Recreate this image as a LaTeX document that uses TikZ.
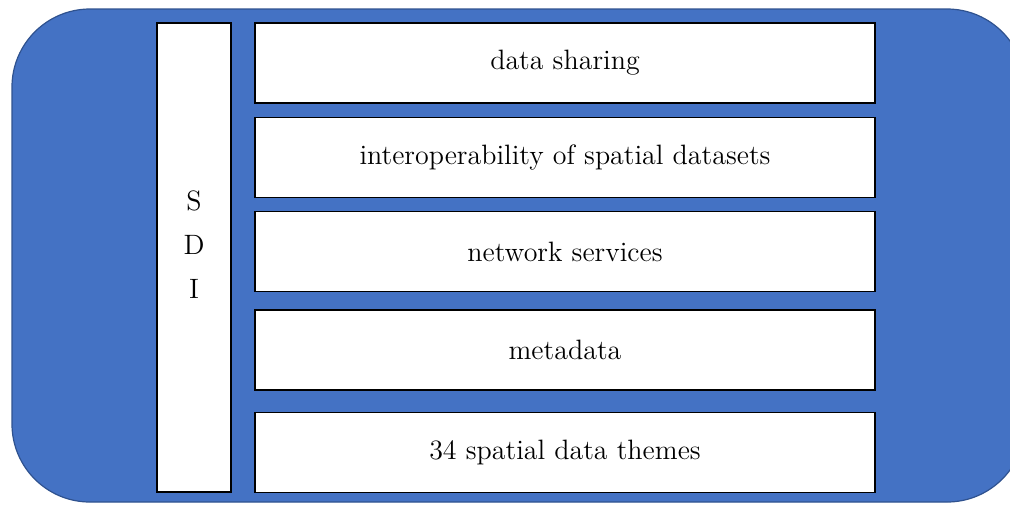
\documentclass[tikz,border=0pt]{standalone}
\usepackage{xcolor}
\definecolor{sdiblue}{HTML}{4472C4}
\definecolor{sdiedge}{HTML}{2F528F}

\begin{document}
\begin{tikzpicture}[x=0.5pt,y=-0.5pt,
    layer box/.style={rectangle,draw=black,fill=white,line width=0.7pt,inner sep=0pt,
        minimum width=310pt,minimum height=40pt,font=\fontsize{14}{17}\selectfont},
    side box/.style={rectangle,draw=black,fill=white,line width=0.7pt,inner sep=0pt,
        minimum width=37pt,minimum height=234.5pt}]

            \useasboundingbox (0,0) rectangle (1010,505);
            \clip (0,0) rectangle (1010,505);

            % blue frame
            \draw[fill=sdiblue,draw=sdiedge,line width=0.6pt,rounded corners=39pt] (12,9) rectangle (1025,502);

            \node[side box] (0) at (194,257.5) {};
            \node[align=center,font=\fontsize{14}{22}\selectfont] (sdi) at (194,245) {S\\D\\I};

            \node[layer box] (1) at (565,63) {data sharing};
            \node[layer box] (2) at (565,157.5) {interoperability of spatial datasets};
            \node[layer box] (3) at (565,251.5) {network services};
            \node[layer box] (4) at (565,350) {metadata};
            \node[layer box] (5) at (565,452.5) {34 spatial data themes};

        \end{tikzpicture}
\end{document}
